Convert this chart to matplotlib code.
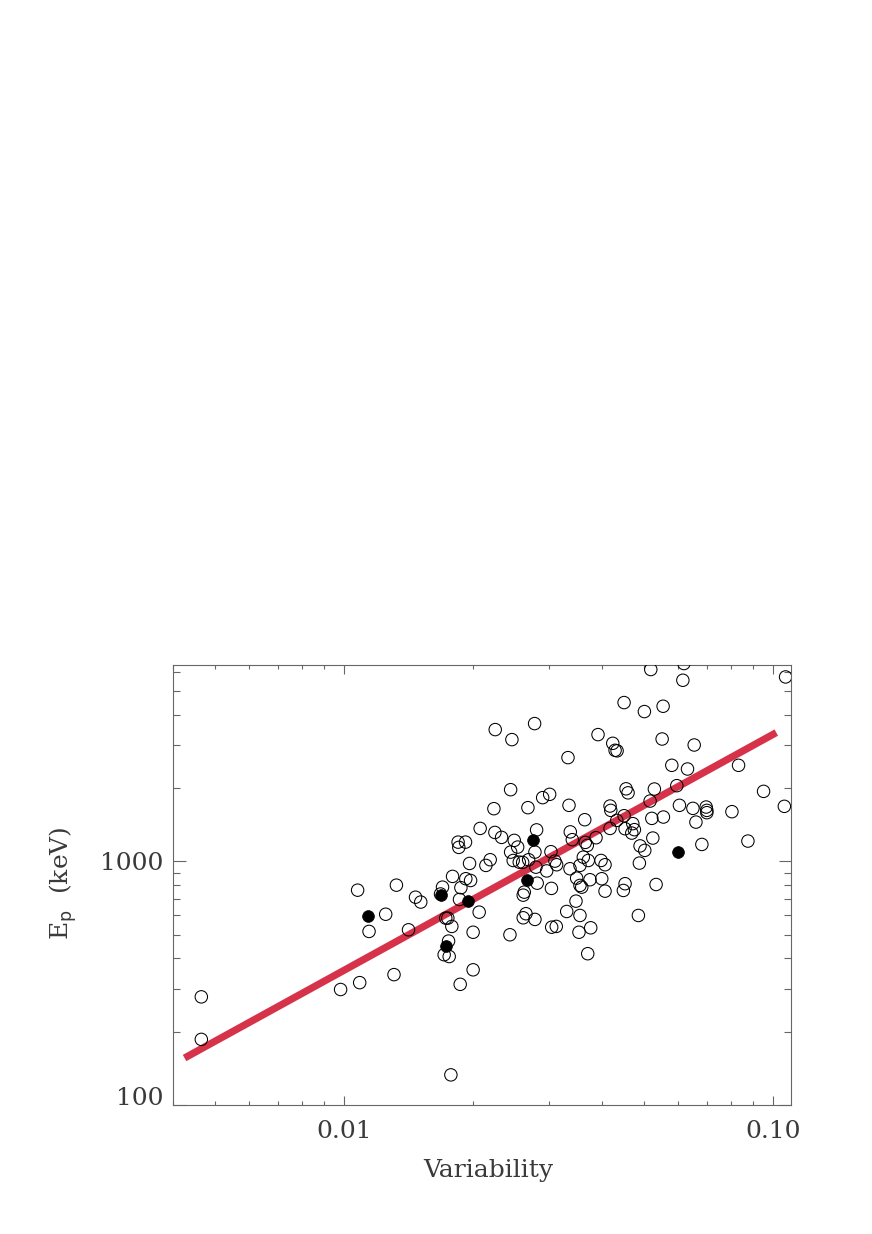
import numpy as np
import matplotlib
matplotlib.use("Agg")
import matplotlib.pyplot as plt
from matplotlib.ticker import FixedLocator, FixedFormatter, LogLocator, NullFormatter

# open circles: variability, peak energy (keV)
var_open = [
    0.00465, 0.00465, 0.00982, 0.01088, 0.01308, 0.01775, 0.01866, 0.0200,
    0.01076, 0.01325, 0.01468, 0.0151, 0.01251, 0.01144, 0.01414, 0.01697,
    0.01791, 0.01873, 0.01923, 0.01973, 0.01859, 0.01727, 0.01746, 0.01784,
    0.01753, 0.01712, 0.01759, 0.0200, 0.02066, 0.01679, 0.02252, 0.02236,
    0.02077, 0.02248, 0.0233, 0.01845, 0.0192, 0.01852, 0.01962, 0.02192,
    0.02142, 0.02463, 0.02446, 0.02782, 0.0391, 0.04232, 0.04285, 0.04331,
    0.03328, 0.04497, 0.05015, 0.0519, 0.05545, 0.05516, 0.02684, 0.02905,
    0.03016, 0.03346, 0.03641, 0.04171, 0.04187, 0.04546, 0.04594, 0.05291,
    0.05171, 0.05219, 0.04324, 0.04497, 0.04712, 0.04753, 0.04687, 0.04171,
    0.02812, 0.03369, 0.03406, 0.062, 0.06165, 0.107, 0.06552, 0.0581,
    0.06321, 0.08313, 0.05968, 0.09508, 0.06053, 0.06507, 0.06986, 0.07012,
    0.07012, 0.08023, 0.1063, 0.05554, 0.06613, 0.05247, 0.049, 0.05025,
    0.06827, 0.08742, 0.02494, 0.0254, 0.02446, 0.02787, 0.0248, 0.02562,
    0.02609, 0.02694, 0.02802, 0.02968, 0.03037, 0.02821, 0.02632, 0.02617,
    0.03045, 0.02656, 0.02617, 0.02787, 0.03049, 0.03125, 0.02437, 0.04521,
    0.03652, 0.03691, 0.03868, 0.03613, 0.03711, 0.03974, 0.0406, 0.03103,
    0.03131, 0.03549, 0.03364, 0.04882, 0.03486, 0.03745, 0.03989, 0.03549,
    0.03583, 0.0406, 0.04521, 0.0448, 0.0534, 0.03474, 0.03305, 0.03549,
    0.04856, 0.0376, 0.0353, 0.037,
]
ep_open = [
    278, 186, 298, 318, 343, 133, 313, 359,
    762, 799, 713, 681, 607, 516, 524, 784,
    868, 780, 849, 835, 698, 585, 585, 541,
    471, 414, 407, 512, 619, 735, 3476, 1646,
    1366, 1315, 1255, 1200, 1200, 1142, 981, 1016,
    963, 3162, 1970, 3679, 3315, 3053, 2858, 2844,
    2667, 4487, 4121, 6132, 4334, 3180, 1662, 1827,
    1885, 1699, 1483, 1688, 1620, 1986, 1912, 1982,
    1769, 1502, 1474, 1540, 1429, 1350, 1307, 1366,
    1347, 1322, 1228, 6489, 5541, 5717, 3005, 2480,
    2395, 2480, 2046, 1939, 1699, 1651, 1672, 1620,
    1585, 1600, 1683, 1521, 1450, 1247, 1158, 1110,
    1174, 1212, 1220, 1145, 1092, 1092, 1009, 993,
    991, 1016, 947, 914, 1096, 814, 748, 727,
    775, 610, 587, 578, 537, 541, 500, 1362,
    1197, 1163, 1251, 1041, 1009, 1009, 969, 1003,
    969, 963, 933, 984, 854, 841, 849, 797,
    784, 755, 810, 760, 804, 687, 623, 600,
    600, 534, 512, 418,
]

# filled circles
var_filled = [0.01138, 0.01679, 0.01951, 0.01727, 0.02762, 0.02674, 0.06001]
ep_filled = [598, 725, 685, 448, 1228, 835, 1092]

# fitted relation (end points)
fit_var = [0.00425, 0.1018]
fit_ep = [156, 3379]

x_ticks = [0.01, 0.1]
x_ticklabels = ["0.01", "0.10"]
y_ticks = [100, 1000]
y_ticklabels = ["100", "1000"]

TEXT_COLOR = "#3a3a3a"
AXIS_COLOR = "#666666"
plt.rcParams["font.family"] = ["DejaVu Serif"]

fig = plt.figure(figsize=(8.72, 12.34), dpi=100)
ax = fig.add_axes([0.1987, 0.1045, 0.7081, 0.3566])

ax.plot(fit_var, fit_ep, color="#d6334a", lw=5.2, solid_capstyle="butt", zorder=2)
ax.scatter(var_open, ep_open, s=80, facecolors="none", edgecolors="black",
           linewidths=0.75, zorder=3)
ax.scatter(var_filled, ep_filled, s=72, facecolors="black", edgecolors="black",
           linewidths=0.5, zorder=4)

ax.set_xscale("log")
ax.set_yscale("log")
ax.set_xlim(0.004, 0.11)
ax.set_ylim(100, 6400)

ax.xaxis.set_major_locator(FixedLocator(x_ticks))
ax.xaxis.set_major_formatter(FixedFormatter(x_ticklabels))
ax.yaxis.set_major_locator(FixedLocator(y_ticks))
ax.yaxis.set_major_formatter(FixedFormatter(y_ticklabels))
ax.xaxis.set_minor_locator(LogLocator(base=10, subs=np.arange(2, 10)))
ax.yaxis.set_minor_locator(LogLocator(base=10, subs=np.arange(2, 10)))
ax.xaxis.set_minor_formatter(NullFormatter())
ax.yaxis.set_minor_formatter(NullFormatter())

for sp in ax.spines.values():
    sp.set_color(AXIS_COLOR)
    sp.set_linewidth(0.8)

ax.tick_params(axis="both", which="both", direction="in", top=True, right=True,
               color=AXIS_COLOR, width=0.8, labelcolor=TEXT_COLOR, labelsize=18)
ax.tick_params(axis="x", which="major", length=6.5, pad=11)
ax.tick_params(axis="x", which="minor", length=3.2)
ax.tick_params(axis="y", which="major", length=9, pad=7)
ax.tick_params(axis="y", which="minor", length=4.8)

# bottom y label sits slightly above the axis line
for lab in ax.get_yticklabels():
    if lab.get_text() == "100":
        lab.set_va("baseline")

ax.set_xlabel("Variability", fontsize=18, color=TEXT_COLOR, va="center")
ax.xaxis.set_label_coords(0.51, -0.148)
ax.set_ylabel(r"E$_{\rm p}$  (keV)", fontsize=18, color=TEXT_COLOR, va="center")
ax.yaxis.set_label_coords(-0.179, 0.505)

fig.savefig("out.png", dpi=100)
